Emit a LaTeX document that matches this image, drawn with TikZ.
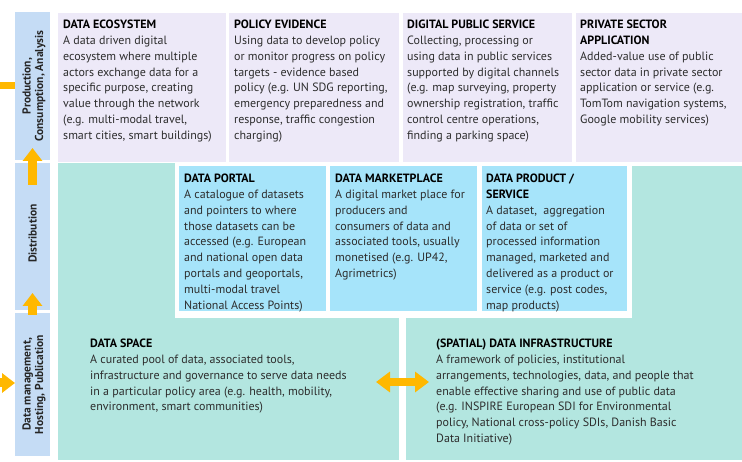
\documentclass[tikz,border=0pt]{standalone}
\usepackage{fontspec}
\setmainfont{PT Sans}
\usetikzlibrary{arrows.meta,calc}

\definecolor{lav}{RGB}{237,233,248}
\definecolor{axisblue}{RGB}{197,220,245}
\definecolor{mint}{RGB}{179,230,224}
\definecolor{sky}{RGB}{166,228,250}
\definecolor{amber}{RGB}{255,184,0}
\definecolor{ink}{RGB}{45,45,45}

\tikzset{
  panel/.style={fill=#1, draw=none, inner sep=0pt, outer sep=0pt, anchor=north west},
  txt/.style={anchor=north west, inner sep=0pt, align=left, text=ink,
              font=\fontsize{12}{15.8}\selectfont},
  axistxt/.style={rotate=90, inner sep=0pt, align=center, text=black!85,
                  font=\bfseries\fontsize{11.5}{12.5}\selectfont},
  flow/.style={draw=amber, line width=9pt,
               -{Triangle[width=19pt,length=13pt]}},
  twoway/.style={draw=amber, line width=8pt,
                 {Triangle[width=20pt,length=14pt]}-{Triangle[width=20pt,length=14pt]}},
}
\newcommand{\ttl}[1]{\textbf{\color{black}#1}}

\begin{document}
\begin{tikzpicture}[x=1pt,y=-1pt]
  \useasboundingbox (0,0) rectangle (742,462);

  % lifecycle stages on the left
  \node[panel=axisblue, minimum width=35pt, minimum height=148pt] (prod) at (15,12) {};
  \node[panel=axisblue, minimum width=35pt, minimum height=147pt] (dist) at (15,163) {};
  \node[panel=axisblue, minimum width=35pt, minimum height=143pt] (mgmt) at (15,313) {};
  \node[axistxt] at ($(prod.center)+(1.5,0)$) {Production,\\Consumption, Analysis};
  \node[axistxt] at ($(dist.center)+(0,-3)$) {Distribution};
  \node[axistxt] at ($(mgmt.center)+(1.5,0)$) {Data management,\\Hosting, Publication};

  % use layer
  \node[panel=lav, minimum width=168pt, minimum height=149pt] (eco) at (58,13) {};
  \node[panel=lav, minimum width=170pt, minimum height=149pt] (pol) at (229,13) {};
  \node[panel=lav, minimum width=169pt, minimum height=149pt] (dps) at (403,13) {};
  \node[panel=lav, minimum width=166pt, minimum height=149pt] (psa) at (576,13) {};

  % infrastructure layer
  \node[panel=mint, minimum width=341pt, minimum height=297pt] (space) at (58,163) {};
  \node[panel=mint, minimum width=336pt, minimum height=294pt] (infra) at (406,166) {};
  \node[panel=white, minimum width=457pt, minimum height=155pt] (frame) at (175,163) {};

  % distribution layer
  \node[panel=sky, minimum width=147pt, minimum height=145pt] (portal) at (179,166) {};
  \node[panel=sky, minimum width=147pt, minimum height=145pt] (market) at (330,166) {};
  \node[panel=sky, minimum width=145pt, minimum height=145pt] (product) at (482,166) {};

  % texts
  \node[txt] at ($(eco.north west)+(5,7)$) {\ttl{DATA ECOSYSTEM}\\A data driven digital\\ecosystem where multiple\\actors exchange data for a\\specific purpose, creating\\value through the network\\(e.g. multi-modal travel,\\smart cities, smart buildings)};
  \node[txt] at ($(pol.north west)+(5,7)$) {\ttl{POLICY EVIDENCE}\\Using data to develop policy\\or monitor progress on policy\\targets - evidence based\\policy (e.g. UN SDG reporting,\\emergency preparedness and\\response, traffic congestion\\charging)};
  \node[txt] at ($(dps.north west)+(4,7)$) {\ttl{DIGITAL PUBLIC SERVICE}\\Collecting, processing or\\using data in public services\\supported by digital channels\\(e.g. map surveying, property\\ownership registration, traffic\\control centre operations,\\finding a parking space)};
  \node[txt] at ($(psa.north west)+(4,7)$) {\ttl{PRIVATE SECTOR}\\\ttl{APPLICATION}\\Added-value use of public\\sector data in private sector\\application or service (e.g.\\TomTom navigation systems,\\Google mobility services)};

  \node[txt] at ($(portal.north west)+(5,8)$) {\ttl{DATA PORTAL}\\A catalogue of datasets\\and pointers to where\\those datasets can be\\accessed (e.g. European\\and national open data\\portals and geoportals,\\multi-modal travel\\National Access Points)};
  \node[txt] at ($(market.north west)+(5,8)$) {\ttl{DATA MARKETPLACE}\\A digital market place for\\producers and\\consumers of data and\\associated tools, usually\\monetised (e.g. UP42,\\Agrimetrics)};
  \node[txt] at ($(product.north west)+(4,8)$) {\ttl{DATA PRODUCT /}\\\ttl{SERVICE}\\A dataset,~ aggregation\\of data or set of\\processed information\\managed, marketed and\\delivered as a product or\\service (e.g. post codes,\\map products)};

  \node[txt] at ($(space.north west)+(32,176)$) {\ttl{DATA SPACE}\\A curated pool of data, associated tools,\\infrastructure and governance to serve data needs\\in a particular policy area (e.g. health, mobility,\\environment, smart communities)};
  \node[txt] at ($(infra.north west)+(30,173)$) {\ttl{(SPATIAL) DATA INFRASTRUCTURE}\\A framework of policies, institutional\\arrangements, technologies, data, and people that\\enable effective sharing and use of public data\\(e.g. INSPIRE European SDI for Environmental\\policy, National cross-policy SDIs, Danish Basic\\Data Initiative)};

  % flow arrows
  \coordinate (outL) at (-4,86);
  \coordinate (inL) at (-4,383);
  \draw[draw=amber, line width=7pt] (prod.west |- outL) -- (outL);
  \draw[flow] (inL) -- (mgmt.west |- inL);
  \draw[flow] ($(dist.north)+(0,22)$) -- ($(prod.south)+(0,-12)$);
  \draw[flow] ($(mgmt.north)+(0,2)$) -- ($(dist.south)+(0,-17)$);
  \draw[twoway] ($(space.south east)+(-23,-78)$) -- ($(infra.south west)+(23,-78)$);
\end{tikzpicture}
\end{document}
